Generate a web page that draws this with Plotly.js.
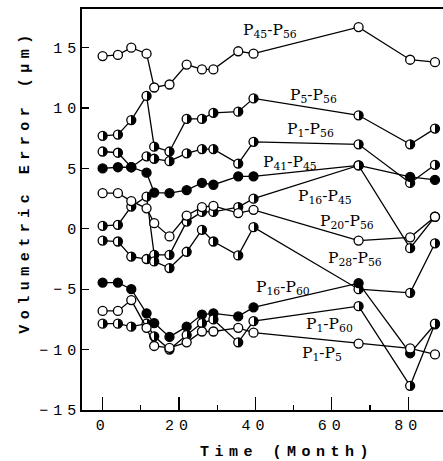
<!DOCTYPE html>
<html>
<head>
<meta charset="utf-8">
<script src="https://cdn.plot.ly/plotly-3.0.1.min.js"></script>
<style>
  html, body { margin: 0; padding: 0; background: #fff; }
  #chart { width: 443px; height: 461px; }
  .xtick text, .ytick text { letter-spacing: 5px; }
  g.annotation[data-index="10"] text, g.annotation[data-index="11"] text { letter-spacing: 5.5px; }
</style>
</head>
<body>
<div id="chart"></div>
<script>
// Time (month) of each measurement
const months = [0, 4, 7.5, 11.5, 13.5, 17.5, 22, 26, 29, 35.5, 39.5, 67, 80.5, 87];

// Volumetric error (micrometres) per point pair
const P45_P56 = [14.3, 14.4, 15.0, 14.5, 11.7, 11.95, 13.6, 13.2, 13.2, 14.7, 14.5, 16.7, 14.0, 13.8];
const P5_P56  = [7.7, 7.8, 9.0, 11.0, 6.8, 6.4, 9.1, 9.1, 9.6, 9.7, 10.8, 9.4, 7.0, 8.3];
const P1_P56  = [6.4, 6.3, 5.1, 6.0, 5.8, 5.6, 6.25, 6.6, 6.6, 5.4, 7.2, 7.0, 3.8, 5.3];
const P41_P45 = [5.0, 5.1, 5.1, 4.65, 3.0, 2.95, 3.2, 3.8, 3.65, 4.35, 4.35, 5.25, 4.3, 4.05];
const P16_P45 = [0.25, 0.33, 1.84, 2.67, -2.15, -2.15, 0.6, 1.4, 1.4, 1.8, 2.5, 5.25, -1.6, 1.0];
const P20_P56 = [2.95, 2.95, 2.3, 1.7, 0.47, -0.63, 1.1, 1.8, 1.9, 1.3, 1.57, -0.97, -0.7, 1.0];
const P28_P56 = [-0.97, -1.05, -2.3, -2.5, -2.7, -3.25, -1.9, -0.08, -1.05, -2.2, 0.14, -5.0, -5.3, -1.2];
const P16_P60 = [-4.45, -4.45, -5.0, -7.0, -7.8, -8.95, -8.1, -7.1, -7.0, -7.25, -6.5, -4.5, -10.3, -7.9];
const P1_P60  = [-7.85, -7.85, -8.1, -7.85, -8.9, -10.0, -8.8, -7.8, -7.5, -9.4, -7.65, -6.4, -13.0, -7.85];
const P1_P5   = [-6.8, -6.8, -5.9, -8.2, -9.7, -9.85, -9.4, -8.5, -8.5, -8.2, -8.6, -9.5, -9.9, -10.4];

// Series labels (drawn next to the curves)
const seriesNames = ['P45-P56','P5-P56','P1-P56','P41-P45','P16-P45','P20-P56','P28-P56','P16-P60','P1-P60','P1-P5'];
const labelHtml = ['P<sub>45</sub>-P<sub>56</sub>','P<sub>5</sub>-P<sub>56</sub>','P<sub>1</sub>-P<sub>56</sub>',
  'P<sub>41</sub>-P<sub>45</sub>','P<sub>16</sub>-P<sub>45</sub>','P<sub>20</sub>-P<sub>56</sub>',
  'P<sub>28</sub>-P<sub>56</sub>','P<sub>16</sub>-P<sub>60</sub>','P<sub>1</sub>-P<sub>60</sub>','P<sub>1</sub>-P<sub>5</sub>'];
const seriesValues = [P45_P56, P5_P56, P1_P56, P41_P45, P16_P45, P20_P56, P28_P56, P16_P60, P1_P60, P1_P5];
const markerKind = ['open','half','half','filled','half','open','half','filled','half','open'];

// axis titles
const xTitle = 'Time (Month)';
const yTitle = 'Volumetric Error (μm)';

// label anchor positions in data units (layout, not data)
const labelX = [43.8, 55.3, 54.5, 49.0, 58.2, 63.9, 66.0, 47.2, 59.5, 57.4];
const labelY = [16.4, 11.0, 8.2, 5.45, 2.6, 0.6, -2.5, -4.88, -8.0, -10.4];

const traces = seriesValues.map((vals, i) => {
  const kind = markerKind[i];
  return {
    x: months, y: vals, name: seriesNames[i], type: 'scatter', mode: 'lines+markers',
    line: {color: '#000', width: 1.3},
    marker: {
      symbol: 'circle', size: 9,
      color: kind === 'filled' ? '#000' : '#fff',
      line: {color: '#000', width: 1.3},
      gradient: kind === 'half' ? {type: 'horizontal', color: '#000'} : {type: 'none'}
    },
    showlegend: false, hoverinfo: 'x+y+name'
  };
});

const annotations = labelHtml.map((t, i) => ({
  x: labelX[i], y: labelY[i], xref: 'x', yref: 'y', text: t, showarrow: false,
  font: {family: 'DejaVu Serif', size: 15.5, color: '#000'}, xanchor: 'center', yanchor: 'middle'
}));
annotations.push({
  x: 0.569, y: -0.107, xref: 'paper', yref: 'paper', text: xTitle, showarrow: false,
  font: {family: 'Liberation Mono', size: 15, color: '#000', weight: 'bold'}, xanchor: 'center', yanchor: 'middle'
});
annotations.push({
  x: -0.158, y: 0.571, xref: 'paper', yref: 'paper', text: yTitle, showarrow: false, textangle: -90,
  font: {family: 'Liberation Mono', size: 15, color: '#000', weight: 'bold'}, xanchor: 'center', yanchor: 'middle'
});

const layout = {
  width: 443, height: 461,
  margin: {l: 82, r: 0, t: 9, b: 51},
  paper_bgcolor: '#fff', plot_bgcolor: '#fff',
  showlegend: false,
  xaxis: {
    range: [-5.4, 89.1], showgrid: false, zeroline: false,
    tickvals: [0, 20, 40, 60, 80], ticks: 'inside', ticklen: 13, tickwidth: 1.3, tickcolor: '#000',
    minor: {tickvals: [10, 30, 50, 70], ticks: 'inside', ticklen: 5, tickwidth: 1.3, tickcolor: '#000'},
    showline: true, linecolor: '#000', linewidth: 1.7, mirror: true,
    tickfont: {family: 'Liberation Mono', size: 15, color: '#000'}
  },
  yaxis: {
    range: [-15, 18.2], showgrid: false, zeroline: false,
    tickvals: [-15, -10, -5, 0, 5, 10, 15], ticks: 'inside', ticklen: 7, tickwidth: 1.3, tickcolor: '#000',
    showline: true, linecolor: '#000', linewidth: 1.7,
    ticklabelstandoff: -4,
    tickfont: {family: 'Liberation Mono', size: 15, color: '#000'}
  },
  annotations: annotations
};

function sharpenGradients() {
  document.querySelectorAll('#chart linearGradient').forEach(g => {
    const stops = g.querySelectorAll('stop');
    if (stops.length !== 2) return;
    const a = stops[0].cloneNode(true), b = stops[1].cloneNode(true);
    a.setAttribute('offset', '50%');
    b.setAttribute('offset', '50%');
    g.insertBefore(a, stops[1]);
    g.insertBefore(b, stops[1]);
  });
}

Plotly.newPlot('chart', traces, layout, {staticPlot: true, displayModeBar: false}).then(sharpenGradients);
</script>
</body>
</html>
